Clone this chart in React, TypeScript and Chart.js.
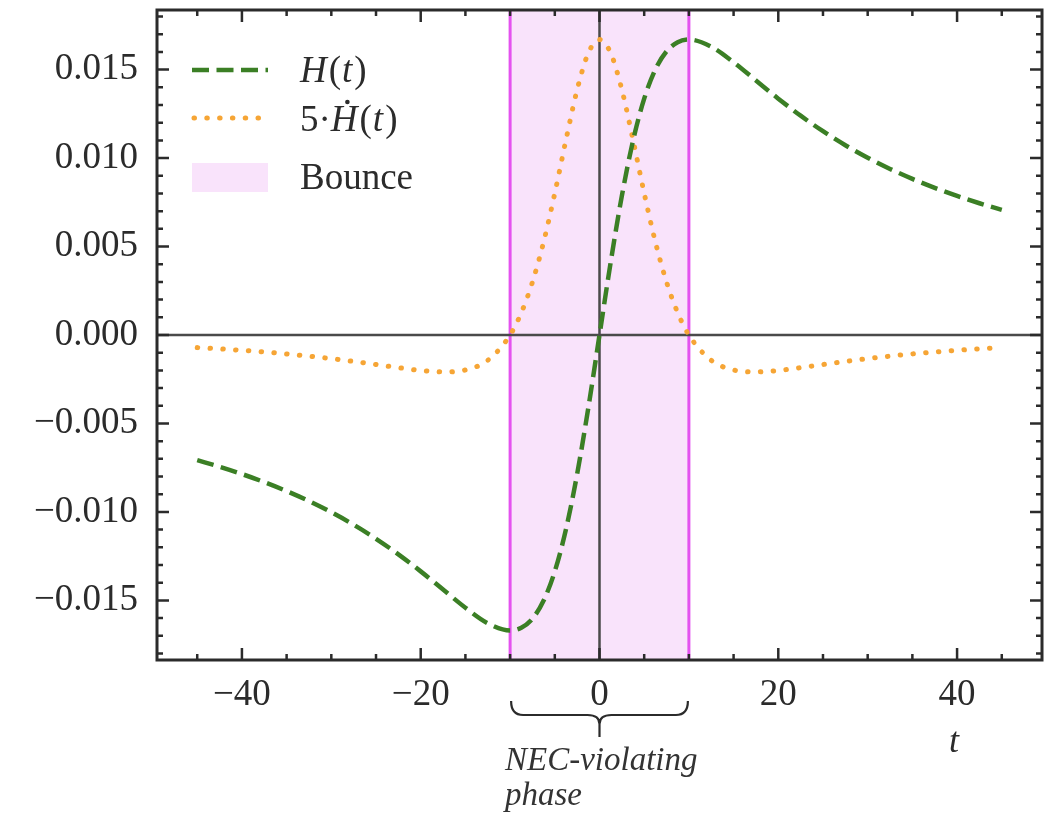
import { useEffect, useRef } from "react";
import { Chart, registerables } from "chart.js";

Chart.register(...registerables);

// ---- data ----
const tValues = [
  -45, -42.5, -40, -37.5, -35, -32.5, -30, -27.5, -25, -22.5, -20, -17.5, -15, -12.5, -10,
  -8.75, -7.5, -6.25, -5, -3.75, -2.5, -1.25, 0, 1.25, 2.5, 3.75, 5, 6.25, 7.5, 8.75,
  10, 12.5, 15, 17.5, 20, 22.5, 25, 27.5, 30, 32.5, 35, 37.5, 40, 42.5, 45,
];
const hValues = [
  -0.007073, -0.007447, -0.007859, -0.008315, -0.008823, -0.009388, -0.01002, -0.010727,
  -0.011517, -0.012396, -0.01336, -0.014388, -0.015415, -0.016293, -0.0167,
  -0.016552, -0.016032, -0.015011, -0.01336, -0.010981, -0.007859, -0.004111, 0,
  0.004111, 0.007859, 0.010981, 0.01336, 0.015011, 0.016032, 0.016552,
  0.0167, 0.016293, 0.015415, 0.014388, 0.01336, 0.012396, 0.011517, 0.010727,
  0.01002, 0.009388, 0.008823, 0.008315, 0.007859, 0.007447, 0.007073,
];
const hDot5Values = [
  -0.000712, -0.000784, -0.000867, -0.000962, -0.00107, -0.001195, -0.001336, -0.001495,
  -0.001668, -0.001846, -0.002004, -0.002087, -0.001976, -0.001431, 0,
  0.001256, 0.002993, 0.005262, 0.008016, 0.011031, 0.013869, 0.015937, 0.0167,
  0.015937, 0.013869, 0.011031, 0.008016, 0.005262, 0.002993, 0.001256,
  0, -0.001431, -0.001976, -0.002087, -0.002004, -0.001846, -0.001668, -0.001495,
  -0.001336, -0.001195, -0.00107, -0.000962, -0.000867, -0.000784, -0.000712,
];
const xMajorTicks = [-40, -20, 0, 20, 40];
const yMajorTicks = [-0.015, -0.01, -0.005, 0, 0.005, 0.01, 0.015];
const xRange = [-49.5, 49.5];
const yRange = [-0.01837, 0.01837];
const bounceRange = [-10, 10];
const legendRuns = [
  [{ text: "H", italic: true, gap: 2 }, { text: "(", italic: false, gap: 1 }, { text: "t", italic: true, gap: 2 }, { text: ")", italic: false, gap: 0 }],
  [{ text: "5·", italic: false, gap: 0 }, { text: "H", italic: true, gap: 2, dot: true }, { text: "(", italic: false, gap: 1 }, { text: "t", italic: true, gap: 2 }, { text: ")", italic: false, gap: 0 }],
  [{ text: "Bounce", italic: false, gap: 0 }],
];
const annotationLines = ["NEC-violating", "phase"];
const xAxisTitle = "t";

// ---- styles ----
const SERIF = "'Liberation Serif', 'DejaVu Serif', serif";
const GREEN = "#3b7f25";
const ORANGE = "#f6a535";
const BOUNCE_FILL = "#f9e3fb";
const BOUNCE_EDGE = "#e452ef";
const INK = "#2b2b2b";

const near = (a: number, b: number, eps: number) => Math.abs(a - b) < eps;
const fmtMinus = (s: string) => s.replace("-", "\u2212");

const decorPlugin = {
  id: "decor",
  beforeDatasetsDraw(chart: any) {
    const { ctx, chartArea: a, scales } = chart;
    const x = scales.x, y = scales.y;
    const x0 = x.getPixelForValue(bounceRange[0]);
    const x1 = x.getPixelForValue(bounceRange[1]);
    ctx.save();
    ctx.fillStyle = BOUNCE_FILL;
    ctx.fillRect(x0, a.top, x1 - x0, a.bottom - a.top);
    ctx.strokeStyle = BOUNCE_EDGE;
    ctx.lineWidth = 3;
    for (const px of [x0, x1]) {
      ctx.beginPath();
      ctx.moveTo(px, a.top);
      ctx.lineTo(px, a.bottom);
      ctx.stroke();
    }
    ctx.strokeStyle = "#4a4a4a";
    ctx.lineWidth = 2.5;
    const yz = y.getPixelForValue(0);
    const xz = x.getPixelForValue(0);
    ctx.beginPath();
    ctx.moveTo(a.left, yz);
    ctx.lineTo(a.right, yz);
    ctx.moveTo(xz, a.top);
    ctx.lineTo(xz, a.bottom);
    ctx.stroke();
    ctx.restore();
  },
  afterDraw(chart: any) {
    const { ctx, chartArea: a, scales } = chart;
    const x = scales.x, y = scales.y;
    ctx.save();
    // ticks (inward, all four sides)
    ctx.strokeStyle = INK;
    ctx.lineWidth = 2.5;
    ctx.beginPath();
    for (const t of x.ticks) {
      const major = xMajorTicks.some((m) => near(m, t.value, 1e-6));
      const len = major ? 12 : 6;
      const px = x.getPixelForValue(t.value);
      ctx.moveTo(px, a.bottom);
      ctx.lineTo(px, a.bottom - len);
      ctx.moveTo(px, a.top);
      ctx.lineTo(px, a.top + len);
    }
    for (const t of y.ticks) {
      const major = yMajorTicks.some((m) => near(m, t.value, 1e-9));
      const len = major ? 12 : 6;
      const py = y.getPixelForValue(t.value);
      ctx.moveTo(a.left, py);
      ctx.lineTo(a.left + len, py);
      ctx.moveTo(a.right, py);
      ctx.lineTo(a.right - len, py);
    }
    ctx.stroke();
    // frame
    ctx.lineWidth = 3;
    ctx.strokeRect(a.left, a.top, a.right - a.left, a.bottom - a.top);

    // legend
    const lx0 = 192, lx1 = 268, tx = 300, size = 37;
    ctx.lineWidth = 4.5;
    ctx.strokeStyle = GREEN;
    ctx.setLineDash([17, 7.5]);
    ctx.beginPath();
    ctx.moveTo(lx0, 70);
    ctx.lineTo(lx1, 70);
    ctx.stroke();
    ctx.strokeStyle = ORANGE;
    ctx.lineWidth = 5;
    ctx.lineCap = "round";
    ctx.setLineDash([0.5, 12.3]);
    ctx.beginPath();
    ctx.moveTo(lx0 + 2, 118);
    ctx.lineTo(lx1, 118);
    ctx.stroke();
    ctx.setLineDash([]);
    ctx.lineCap = "butt";
    ctx.fillStyle = BOUNCE_FILL;
    ctx.fillRect(lx0, 163, lx1 - lx0, 29);

    ctx.fillStyle = INK;
    ctx.textAlign = "left";
    ctx.textBaseline = "alphabetic";
    const baselines = [82, 131, 189];
    legendRuns.forEach((runs, i) => {
      let cx = tx;
      for (const r of runs as any[]) {
        ctx.font = `${r.italic ? "italic " : ""}${size}px ${SERIF}`;
        ctx.fillText(r.text, cx, baselines[i]);
        const w = ctx.measureText(r.text).width;
        if (r.dot) {
          ctx.beginPath();
          ctx.arc(cx + w * 0.62, baselines[i] - 29, 2.3, 0, Math.PI * 2);
          ctx.fill();
        }
        cx += w + (r.gap || 0);
      }
    });

    // x axis title
    ctx.font = `italic 36px ${SERIF}`;
    ctx.textAlign = "center";
    ctx.fillText(xAxisTitle, 954, 752);

    // brace below bounce interval
    const bx0 = x.getPixelForValue(bounceRange[0]) + 1;
    const bx1 = x.getPixelForValue(bounceRange[1]) - 1;
    const bxm = x.getPixelForValue(0);
    const top = 701, mid = 715, tip = 724, stem = 737;
    ctx.strokeStyle = INK;
    ctx.lineWidth = 2.2;
    ctx.beginPath();
    ctx.moveTo(bx0, top);
    ctx.quadraticCurveTo(bx0, mid, bx0 + 12, mid);
    ctx.lineTo(bxm - 12, mid);
    ctx.quadraticCurveTo(bxm, mid, bxm, tip);
    ctx.moveTo(bx1, top);
    ctx.quadraticCurveTo(bx1, mid, bx1 - 12, mid);
    ctx.lineTo(bxm + 12, mid);
    ctx.quadraticCurveTo(bxm, mid, bxm, tip);
    ctx.lineTo(bxm, stem);
    ctx.stroke();

    ctx.font = `italic 33px ${SERIF}`;
    ctx.textAlign = "left";
    ctx.fillStyle = "#333333";
    ctx.fillText(annotationLines[0], 505, 770);
    ctx.fillText(annotationLines[1], 505, 805);
    ctx.restore();
  },
};

export default function App() {
  const canvasRef = useRef<HTMLCanvasElement | null>(null);

  useEffect(() => {
    const canvas = canvasRef.current;
    if (!canvas) return;
    const hData = tValues.map((t, i) => ({ x: t, y: hValues[i] }));
    const dData = tValues.map((t, i) => ({ x: t, y: hDot5Values[i] }));
    const chart = new Chart(canvas, {
      type: "line",
      data: {
        datasets: [
          {
            label: "H(t)",
            data: hData,
            borderColor: GREEN,
            borderWidth: 4.5,
            borderDash: [17, 7.5],
            pointRadius: 0,
            fill: false,
            cubicInterpolationMode: "monotone",
          },
          {
            label: "5·Ḣ(t)",
            data: dData,
            borderColor: ORANGE,
            borderWidth: 5,
            borderDash: [0.5, 12.3],
            borderCapStyle: "round",
            pointRadius: 0,
            fill: false,
            cubicInterpolationMode: "monotone",
          },
        ],
      },
      options: {
        animation: false,
        responsive: true,
        maintainAspectRatio: false,
        events: [],
        layout: { padding: { top: 10, right: 6, left: 0, bottom: 0 } },
        plugins: { legend: { display: false }, tooltip: { enabled: false } },
        scales: {
          x: {
            type: "linear",
            min: xRange[0],
            max: xRange[1],
            grid: { display: false },
            border: { display: false },
            afterFit: (s: any) => {
              s.height = 156;
              s.paddingLeft = 0;
              s.paddingRight = 0;
            },
            ticks: {
              stepSize: 5,
              includeBounds: false,
              autoSkip: false,
              maxRotation: 0,
              padding: 5,
              color: INK,
              font: { family: SERIF, size: 37 },
              callback: (v: any) => {
                const n = Number(v);
                return xMajorTicks.some((m) => near(m, n, 1e-6)) ? fmtMinus(String(Math.round(n))) : "";
              },
            },
          },
          y: {
            type: "linear",
            min: yRange[0],
            max: yRange[1],
            grid: { display: false },
            border: { display: false },
            afterFit: (s: any) => {
              s.width = 157;
              s.paddingTop = 0;
              s.paddingBottom = 0;
            },
            ticks: {
              stepSize: 0.001,
              includeBounds: false,
              autoSkip: false,
              padding: 11,
              color: INK,
              font: { family: SERIF, size: 37 },
              callback: (v: any) => {
                const n = Number(v);
                if (!yMajorTicks.some((m) => near(m, n, 1e-9))) return "";
                if (Math.abs(n) < 1e-9) return "0.000";
                return fmtMinus(n.toFixed(3));
              },
            },
          },
        },
      },
      plugins: [decorPlugin],
    } as any);
    return () => chart.destroy();
  }, []);

  return (
    <div style={{ position: "fixed", left: 0, top: 0, width: 1048, height: 816, background: "#ffffff" }}>
      <canvas ref={canvasRef} />
    </div>
  );
}
